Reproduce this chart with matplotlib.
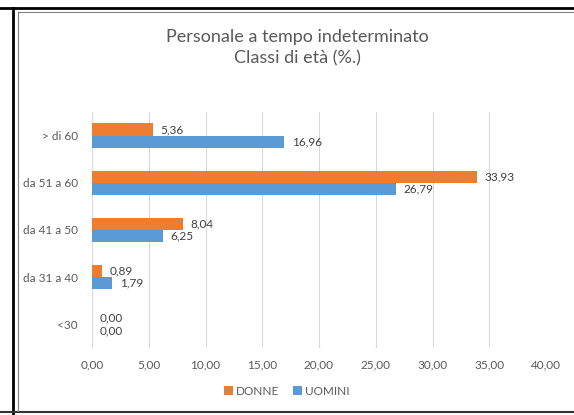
import matplotlib.pyplot as plt
import numpy as np
from matplotlib.lines import Line2D

plt.rcParams['font.family'] = ['Lato', 'DejaVu Sans']

# dati
categorie = ["<30", "da 31 a 40", "da 41 a 50", "da 51 a 60", "> di 60"]
donne = [0.00, 0.89, 8.04, 33.93, 5.36]
uomini = [0.00, 1.79, 6.25, 26.79, 16.96]
xticks = [0, 5, 10, 15, 20, 25, 30, 35, 40]

arancio = '#ED7D31'
blu = '#5B9BD5'
grigio = '#595959'

fig = plt.figure(figsize=(5.74, 4.15), dpi=100)
ax = fig.add_axes([92/574, 1-348/415, 454/574, 236/415])

y = np.arange(len(categorie))
h = 0.26
ax.barh(y + h/2, donne, height=h, color=arancio, label='DONNE')
ax.barh(y - h/2, uomini, height=h, color=blu, label='UOMINI')

# etichette dei valori
for i in range(len(categorie)):
    ax.text(donne[i] + 0.65, y[i] + h/2, "{:.2f}".format(donne[i]).replace('.', ','),
            va='center', ha='left', fontsize=8.5, color='#404040')
    ax.text(uomini[i] + 0.65, y[i] - h/2, "{:.2f}".format(uomini[i]).replace('.', ','),
            va='center', ha='left', fontsize=8.5, color='#404040')

ax.set_xlim(0, 40)
ax.set_ylim(-0.5, len(categorie) - 0.5)
ax.set_xticks(xticks)
ax.set_xticklabels(["{:.2f}".format(v).replace('.', ',') for v in xticks])
ax.set_yticks(y)
ax.set_yticklabels(categorie)
ax.tick_params(length=0, labelsize=8.5, colors=grigio, pad=8)
ax.tick_params(axis='y', pad=10)
ax.xaxis.grid(True, color='#D9D9D9', linewidth=0.8)
ax.set_axisbelow(True)
for s in ax.spines.values():
    s.set_visible(False)

fig.text(297/574, 1-37/415, "Personale a tempo indeterminato", ha='center', va='center',
         fontsize=13, color=grigio)
fig.text(297/574, 1-58/415, "Classi di età (%.)", ha='center', va='center',
         fontsize=13, color=grigio)

fig.legend(loc='center', bbox_to_anchor=(0.5, 1-391/415), ncol=2, frameon=False,
           fontsize=8.5, handlelength=0.7, handleheight=0.7, handletextpad=0.3,
           columnspacing=1.2, labelcolor=grigio)

# cornice del foglio
fig.add_artist(Line2D([0, 1], [1-8/415, 1-8/415], color='black', linewidth=2))
fig.add_artist(Line2D([13/574, 13/574], [0, 1-8/415], color='black', linewidth=2))
fig.add_artist(Line2D([0, 1], [1-412/415, 1-412/415], color='#333333', linewidth=1.5))
fig.add_artist(Line2D([18/574, 18/574], [1-411/415, 1-12/415], color='#808080', linewidth=0.8))
fig.add_artist(Line2D([18/574, 1], [1-12/415, 1-12/415], color='#808080', linewidth=0.8))

fig.savefig('out.png', dpi=100)
